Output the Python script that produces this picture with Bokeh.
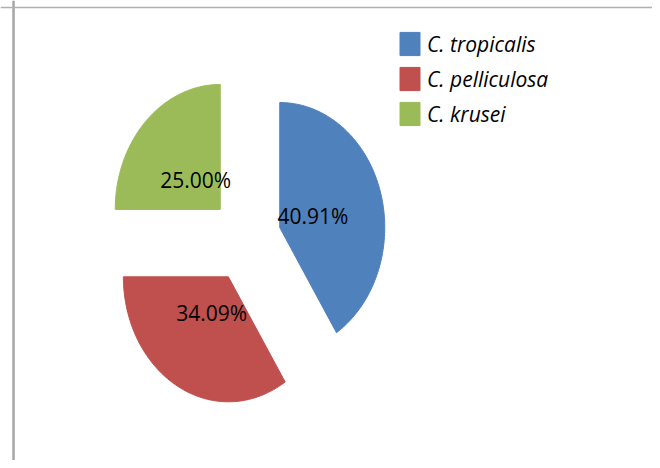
import numpy as np
from bokeh.plotting import figure
from bokeh.models import Range1d, Span, Legend, LegendItem, ColumnDataSource
from bokeh.core.properties import value
from bokeh.embed import file_html
from bokeh.resources import INLINE

# ---- data ----
species = ["C. tropicalis", "C. pelliculosa", "C. krusei"]
shares = [40.91, 34.09, 25.00]
labels = ["40.91%", "34.09%", "25.00%"]
colors = ["#4F81BD", "#C0504D", "#9BBB59"]

explode = 0.34      # offset of each slice along its bisector (fraction of radius)
label_r = 0.33      # label distance from the slice vertex

W, H = 652, 460
p = figure(width=W, height=H, output_backend="svg", toolbar_location=None,
           x_range=Range1d(-2.333, 3.876), y_range=Range1d(-1.768, 1.912),
           min_border=0, outline_line_color=None)
p.axis.visible = False
p.grid.visible = False
p.background_fill_color = "white"
p.border_fill_color = "white"

# chart-area border (left and top edges only, as in reference)
p.add_layout(Span(location=-2.209, dimension="height", line_color="#A6A6A6", line_width=2.5))
p.add_layout(Span(location=1.856, dimension="width", line_color="#B0B0B0", line_width=1.5))

frac = np.array(shares) / np.sum(shares)
ends = np.cumsum(frac) * 2 * np.pi
starts = ends - frac * 2 * np.pi

renderers = []
lx, ly = [], []
for s, e, c in zip(starts, ends, colors):
    mid = (s + e) / 2
    cx, cy = explode * np.sin(mid), explode * np.cos(mid)
    th = np.linspace(s, e, 120)
    xs = np.concatenate([[cx], cx + np.sin(th), [cx]])
    ys = np.concatenate([[cy], cy + np.cos(th), [cy]])
    r = p.patch(xs, ys, fill_color=c, line_color=c, line_width=1)
    renderers.append(r)
    lx.append(cx + label_r * np.sin(mid))
    ly.append(cy + label_r * np.cos(mid))

src = ColumnDataSource(dict(x=lx, y=ly, t=labels))
p.text("x", "y", text="t", source=src, text_align="center", text_baseline="middle",
       text_font_size="21px", text_font=value("Open Sans"), text_color="black")

legend = Legend(items=[LegendItem(label=n, renderers=[r]) for n, r in zip(species, renderers)],
                location=(397, 332), orientation="vertical",
                glyph_width=25, glyph_height=29, label_height=29, spacing=6,
                label_standoff=5, padding=0, margin=0,
                border_line_alpha=0, background_fill_alpha=0,
                label_text_font="Open Sans", label_text_font_style="italic",
                label_text_font_size="21px", label_text_color="black")
p.add_layout(legend)

open("out.html", "w").write(file_html(p, INLINE))
